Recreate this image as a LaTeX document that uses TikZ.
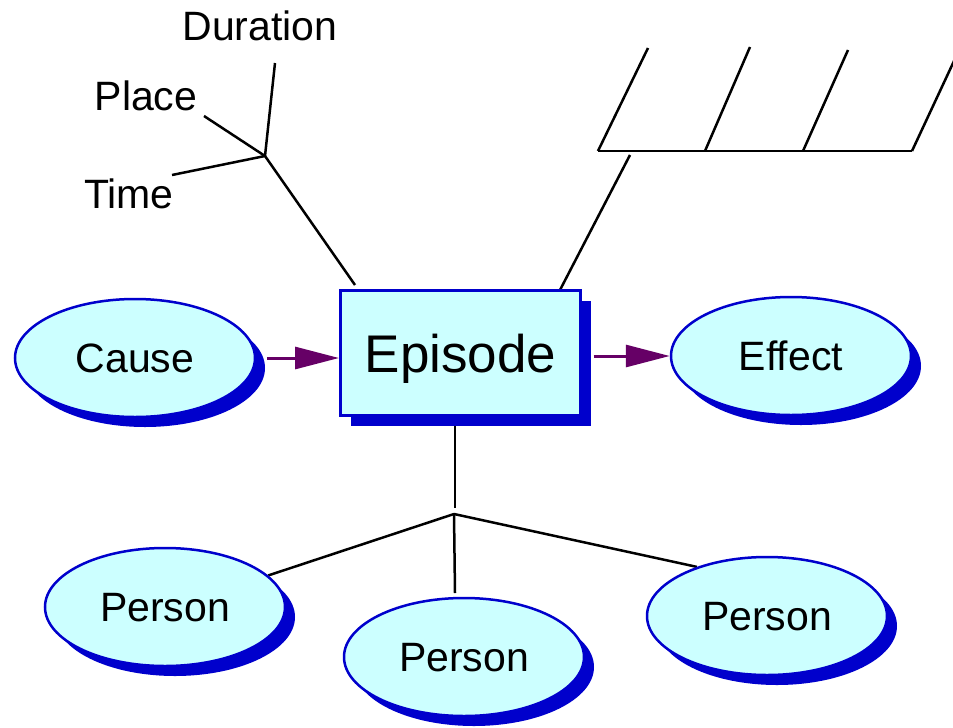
\documentclass[tikz,border=0pt]{standalone}
\usepackage{fontspec}
\setmainfont{Liberation Sans}
\usetikzlibrary{shapes.geometric,shadows,arrows.meta,backgrounds,calc}

\definecolor{nodeblue}{RGB}{0,0,204}
\definecolor{nodefill}{RGB}{204,255,255}
\definecolor{flowpurple}{RGB}{102,0,102}

\tikzset{
  conceptshadow/.style={drop shadow={shadow xshift=10pt,shadow yshift=-10pt,fill=nodeblue,opacity=1}},
  concept/.style={ellipse,draw=nodeblue,line width=2.5pt,fill=nodefill,
    minimum width=240pt,minimum height=118pt,inner sep=0pt,conceptshadow,
    font=\fontsize{41pt}{49pt}\selectfont,text height=29.4pt,text depth=0pt},
  mainbox/.style={rectangle,draw=nodeblue,line width=3pt,fill=nodefill,
    minimum width=240pt,minimum height=125pt,inner sep=0pt,conceptshadow,
    font=\fontsize{53pt}{63pt}\selectfont,text height=38pt,text depth=0pt},
  role/.style={anchor=base,inner sep=0pt,font=\fontsize{41pt}{49pt}\selectfont},
  link/.style={draw=black,line width=2.5pt},
  flow/.style={draw=flowpurple,line width=3pt,-{Triangle[length=44pt,width=22pt]}}
}

\begin{document}
\begin{tikzpicture}[x=1pt,y=-1pt]
  \path[use as bounding box] (0,0) rectangle (953,728);
  \clip (0,0) rectangle (953,728);

  % central event and its neighbours
  \node[mainbox] (ep) at (460.5,353) {Episode};
  \node[concept] (cause) at (135,358) {Cause};
  \node[concept] (eff)   at (791,356) {Effect};
  \node[concept] (p1)    at (165,607) {Person};
  \node[concept] (p2)    at (464,657) {Person};
  \node[concept] (p3)    at (767,616) {Person};

  % attribute labels
  \node[role] (dur) at (260,40)  {Duration};
  \node[role] (plc) at (146,110) {Place};
  \node[role] (tim) at (129,208) {Time};

  % tree of attributes above the episode
  \coordinate (tj)   at (265,156);
  \coordinate (durE) at (275,63);
  \coordinate (plcE) at (204,116);
  \coordinate (timE) at (172,175);
  \coordinate (epTL) at (355,285);

  % hatched ground symbol
  \coordinate (h0) at (598,151);
  \coordinate (h1) at (705,151);
  \coordinate (h2) at (803,151);
  \coordinate (h3) at (912,151);
  \coordinate (t0) at (648,48);
  \coordinate (t1) at (750,47);
  \coordinate (t2) at (848,50);
  \coordinate (t3) at (961,46);
  \coordinate (hs)   at (630,155);
  \coordinate (epTR) at (560,290);

  % participants below the episode
  \coordinate (epB) at (455,417);
  \coordinate (bv)  at (455,508);
  \coordinate (bj)  at (454,514);
  \coordinate (p2T) at (455,593);

  \begin{scope}[on background layer]
    \draw[link] (tj) -- (durE);
    \draw[link] (tj) -- (plcE);
    \draw[link] (tj) -- (timE);
    \draw[link] (tj) -- (epTL);

    \draw[link] (h0) -- (h3);
    \draw[link] (h0) -- (t0);
    \draw[link] (h1) -- (t1);
    \draw[link] (h2) -- (t2);
    \draw[link] (h3) -- (t3);
    \draw[link] (hs) -- (epTR);

    \draw[link] (epB) -- (bv);
    \draw[link] (bj) -- (p1.17);
    \draw[link] (bj) -- (p2T);
    \draw[link] (bj) -- (p3.145);
  \end{scope}

  % causal flow
  \draw[flow] ([xshift=11pt]cause.east) -- (ep.west |- cause.east);
  \draw[flow] ([xshift=11.5pt]ep.east |- eff.west) -- (eff.west);
\end{tikzpicture}
\end{document}
